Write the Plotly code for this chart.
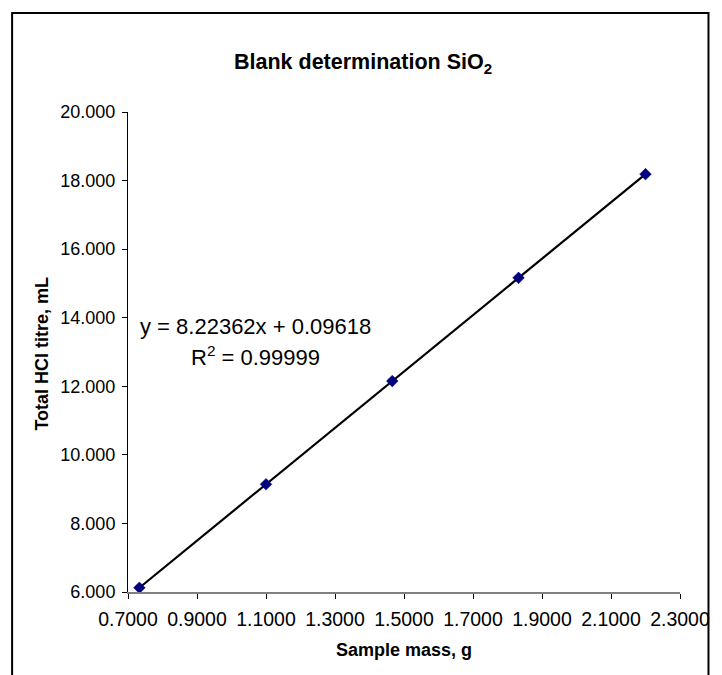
import numpy as np
import plotly.graph_objects as go

# Data
sample_mass = [0.733, 1.100, 1.466, 1.832, 2.200]
hcl_titre = [6.124, 9.142, 12.152, 15.162, 18.188]

x_ticks = [0.7, 0.9, 1.1, 1.3, 1.5, 1.7, 1.9, 2.1, 2.3]
y_ticks = [6, 8, 10, 12, 14, 16, 18, 20]

title_text = "Blank determination SiO<sub>2</sub>"
x_title = "Sample mass, g"
y_title = "Total HCl titre, mL"
eq_line1 = "y = 8.22362x + 0.09618"
eq_line2 = "R<sup>2</sup> = 0.99999"

# linear trendline across data range
slope, intercept = np.polyfit(sample_mass, hcl_titre, 1)
trend_x = [min(sample_mass), max(sample_mass)]
trend_y = [slope * v + intercept for v in trend_x]

W, H = 722, 675
L, R, T, B = 128, 32, 112, 83
pw, ph = W - L - R, H - T - B

def px(xp):
    return (xp - L) / pw

def py(yp):
    return (H - B - yp) / ph

FONT = "Liberation Sans, Arial, sans-serif"

fig = go.Figure()
fig.add_trace(go.Scatter(x=trend_x, y=trend_y, mode="lines",
                         line=dict(color="black", width=2.2),
                         hoverinfo="skip", showlegend=False))
fig.add_trace(go.Scatter(x=sample_mass, y=hcl_titre, mode="markers",
                         marker=dict(symbol="diamond", size=9, color="#000080",
                                     line=dict(color="#000080", width=0.5)),
                         showlegend=False))

fig.update_layout(
    width=W, height=H,
    margin=dict(l=L, r=R, t=T, b=B),
    paper_bgcolor="white", plot_bgcolor="white",
    font=dict(family=FONT, color="black"),
    showlegend=False,
    xaxis=dict(range=[0.7, 2.3], tickvals=x_ticks, tickformat=".4f",
               showgrid=False, zeroline=False, showline=True,
               linecolor="#808080", linewidth=2,
               ticks="outside", ticklen=5, tickcolor="black", tickwidth=1,
               ticklabelstandoff=4,
               tickfont=dict(size=19.5, family=FONT, color="black")),
    yaxis=dict(range=[6, 20], tickvals=y_ticks, tickformat=".3f",
               showgrid=False, zeroline=False, showline=True,
               linecolor="black", linewidth=1,
               ticks="outside", ticklen=5, tickcolor="black", tickwidth=1,
               ticklabelstandoff=3,
               tickfont=dict(size=18, family=FONT, color="black")),
    shapes=[dict(type="rect", xref="paper", yref="paper",
                 x0=px(10), x1=px(719), y0=py(700), y1=py(13),
                 line=dict(color="black", width=2), fillcolor="rgba(0,0,0,0)",
                 layer="above")],
    annotations=[
        dict(text="<b>" + title_text + "</b>", xref="paper", yref="paper",
             x=px(367), y=py(64), showarrow=False, xanchor="center", yanchor="middle",
             font=dict(size=21.5, family=FONT, color="black")),
        dict(text="<b>" + x_title + "</b>", xref="paper", yref="paper",
             x=px(409), y=py(650), showarrow=False, xanchor="center", yanchor="middle",
             font=dict(size=18, family=FONT, color="black")),
        dict(text="<b>" + y_title + "</b>", xref="paper", yref="paper",
             x=px(40), y=py(354), showarrow=False, xanchor="center", yanchor="middle",
             textangle=-90, font=dict(size=18, family=FONT, color="black")),
        dict(text=eq_line1, xref="paper", yref="paper",
             x=px(258), y=py(326), showarrow=False, xanchor="center", yanchor="middle",
             font=dict(size=22, family=FONT, color="black")),
        dict(text=eq_line2, xref="paper", yref="paper",
             x=px(258), y=py(356), showarrow=False, xanchor="center", yanchor="middle",
             font=dict(size=22, family=FONT, color="black")),
    ],
)

fig.write_html("out.html")
